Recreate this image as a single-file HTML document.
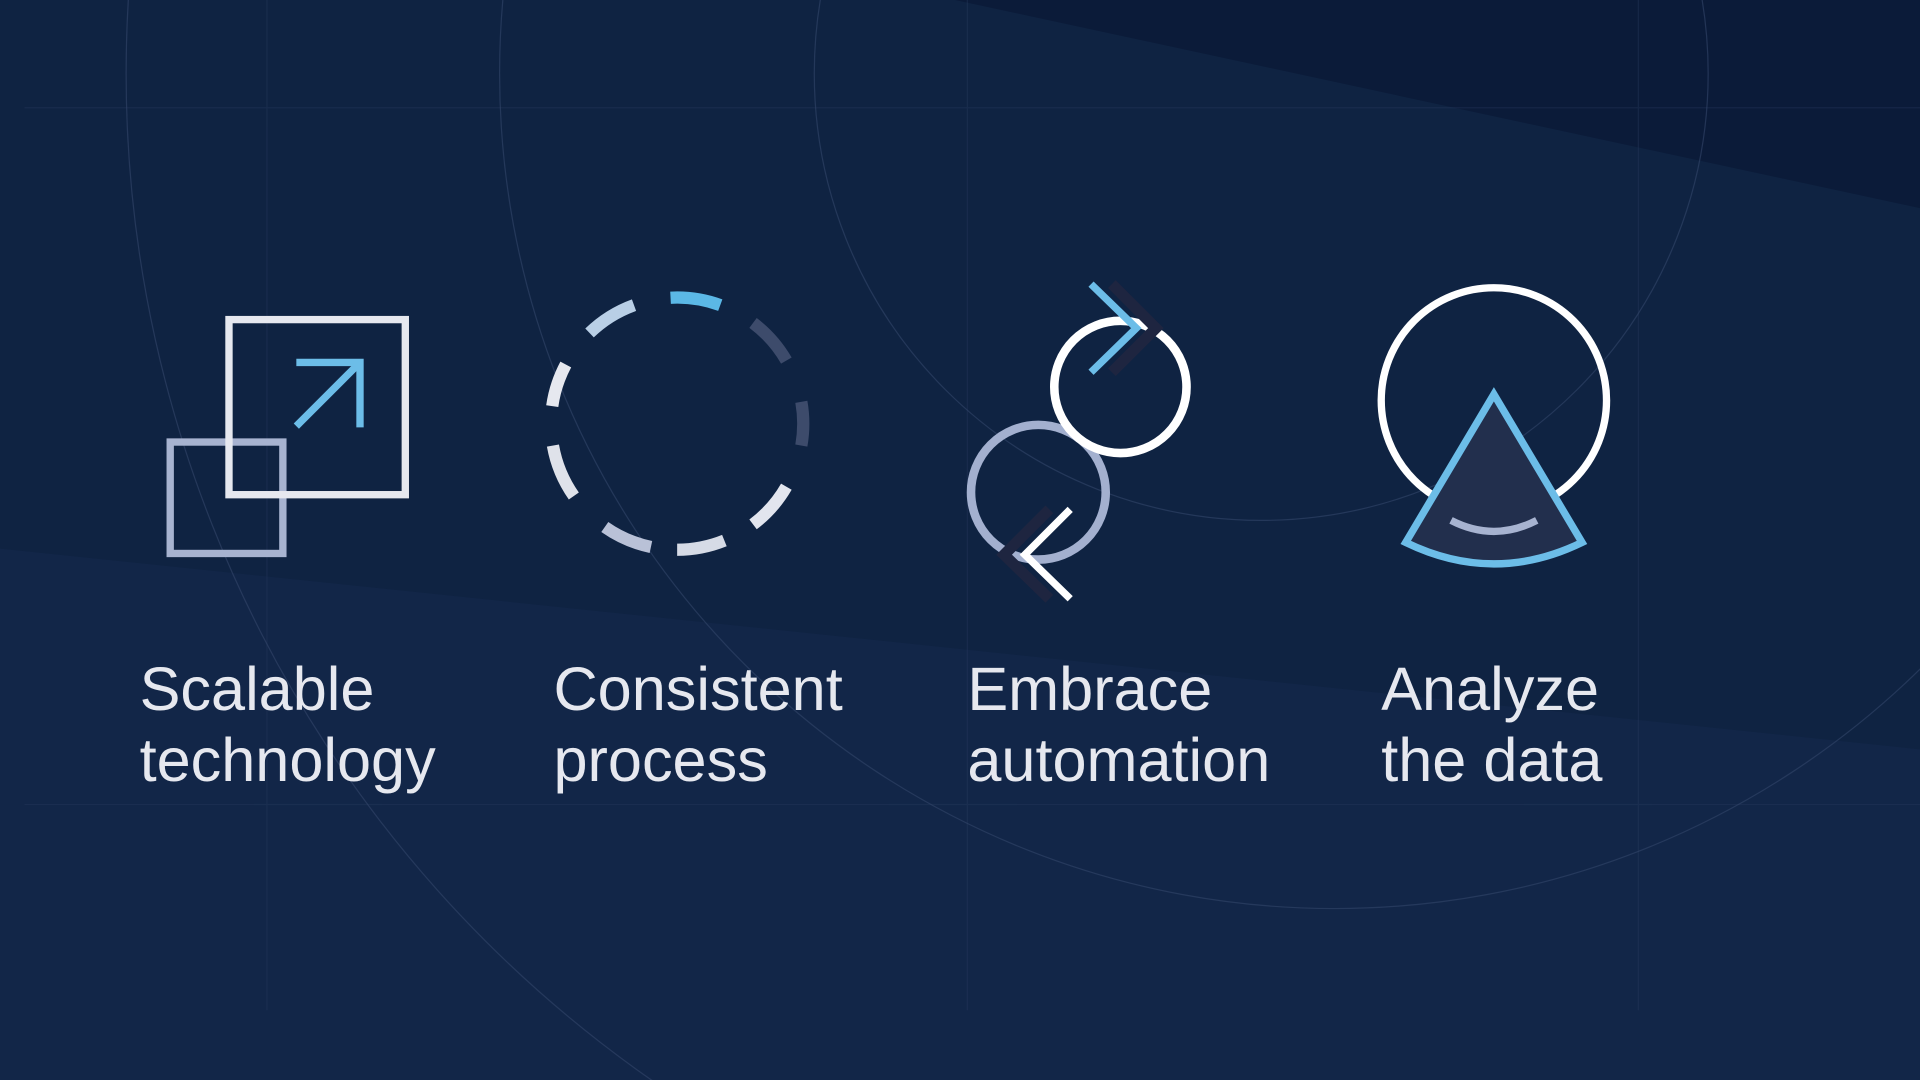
<!DOCTYPE html>
<html><head><meta charset="utf-8"><style>html,body{margin:0;padding:0;background:#0f2342;overflow:hidden;width:1920px;height:1080px}svg{display:block}</style></head>
<body>
<svg width="1920" height="1080" viewBox="0 0 1568 882" xmlns="http://www.w3.org/2000/svg">
<rect width="1568" height="882" fill="#0f2342"/>
<polygon points="780,0 1568,0 1568,170" fill="#0b1b39"/>
<polygon points="0,448 1568,612 1568,882 0,882" fill="#122648"/>
<g stroke="#2a3d60" stroke-width="1" fill="none" opacity="0.35">
<line x1="218" y1="0" x2="218" y2="825"/><line x1="790" y1="0" x2="790" y2="825"/><line x1="1338" y1="0" x2="1338" y2="825"/>
<line x1="20" y1="88" x2="1568" y2="88"/><line x1="20" y1="657" x2="1568" y2="657"/>
</g>
<g stroke="#33466a" stroke-width="1" fill="none" opacity="0.6">
<circle cx="1030" cy="60" r="365"/><circle cx="1090" cy="60" r="682"/><circle cx="1105" cy="60" r="1002"/>
</g>
<!-- icon 1 -->
<rect x="139" y="361" width="92" height="91" fill="none" stroke="#a7b3d0" stroke-width="6"/>
<rect x="187" y="261" width="144" height="143" fill="none" stroke="#e6e8ef" stroke-width="6"/>
<g stroke="#6cbde8" stroke-width="6" fill="none"><line x1="242" y1="348" x2="294" y2="296"/><polyline points="242,296 294,296 294,349"/></g>
<!-- icon 2 -->
<g fill="none" stroke-width="10" id="dash"></g>
<script>
(function(){var g=document.getElementById('dash'),cx=553,cy=346,r=103;
var s=[[-93,-70,'#5bb8e6'],[-53,-30,'#3d4b6b'],[-10,10,'#3d4b6b'],[30,53,'#e2e5ee'],[68,90,'#d6dbe6'],[102,125,'#b9c1d7'],[145,170,'#dfe2ea'],[188,208,'#e6e8ef'],[226,250,'#b9cfe6']];
s.forEach(function(a){var t1=a[0]*Math.PI/180,t2=a[1]*Math.PI/180;
var p=document.createElementNS('http://www.w3.org/2000/svg','path');
p.setAttribute('d','M'+(cx+r*Math.cos(t1))+' '+(cy+r*Math.sin(t1))+' A'+r+' '+r+' 0 0 1 '+(cx+r*Math.cos(t2))+' '+(cy+r*Math.sin(t2)));
p.setAttribute('stroke',a[2]);g.appendChild(p);});})();
</script>
<!-- icon 3 -->
<circle cx="848" cy="402" r="55" fill="none" stroke="#a3b0cf" stroke-width="7"/>
<circle cx="915" cy="316" r="54" fill="none" stroke="#ffffff" stroke-width="7"/>
<polyline points="908,232 944,268 908,304" fill="none" stroke="#1e2540" stroke-width="9"/>
<polyline points="891,232 928,268 891,304" fill="none" stroke="#6cbde8" stroke-width="6"/>
<polyline points="857,416 820,453 857,489" fill="none" stroke="#1e2540" stroke-width="9"/>
<polyline points="874,416 837,453 874,489" fill="none" stroke="#ffffff" stroke-width="6"/>
<!-- icon 4 -->
<circle cx="1220" cy="327" r="92" fill="none" stroke="#ffffff" stroke-width="6"/>
<path d="M1220 322 L1292 443 Q1220 478 1148 443 Z" fill="#222f4d" stroke="#6cbde8" stroke-width="6" stroke-linejoin="miter"/>
<path d="M1185 425 Q1220 443 1255 425" fill="none" stroke="#a7b3d0" stroke-width="6"/>
<!-- text -->
<g font-family="Liberation Sans, Arial, sans-serif" font-size="50" fill="#e6e8ef">
<text x="114" y="580">Scalable</text><text x="114" y="638">technology</text>
<text x="452" y="580">Consistent</text><text x="452" y="638">process</text>
<text x="790" y="580">Embrace</text><text x="790" y="638">automation</text>
<text x="1128" y="580">Analyze</text><text x="1128" y="638">the data</text>
</g>
</svg>
</body></html>
